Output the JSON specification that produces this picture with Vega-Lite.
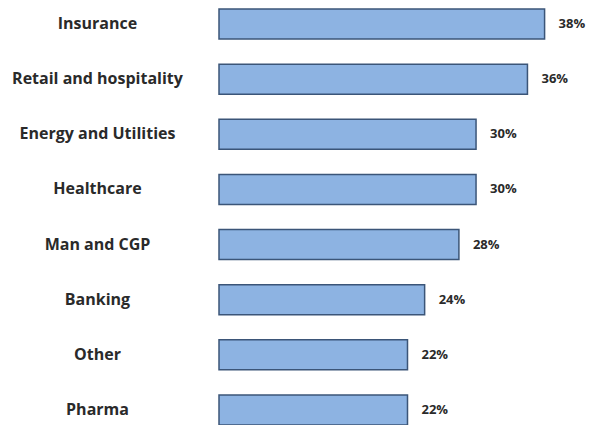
{
  "$schema": "https://vega.github.io/schema/vega-lite/v6.json",
  "autosize": {"type": "none"},
  "width": 377,
  "height": 416,
  "padding": {"left": 219, "top": 9, "right": 0, "bottom": 0},
  "background": "white",
  "config": {"view": {"stroke": null}},
  "data": {
    "values": [
      {"sector": "Insurance", "pct": 38, "label": "38%"},
      {"sector": "Retail and hospitality", "pct": 36, "label": "36%"},
      {"sector": "Energy and Utilities", "pct": 30, "label": "30%"},
      {"sector": "Healthcare", "pct": 30, "label": "30%"},
      {"sector": "Man and CGP", "pct": 28, "label": "28%"},
      {"sector": "Banking", "pct": 24, "label": "24%"},
      {"sector": "Other", "pct": 22, "label": "22%"},
      {"sector": "Pharma", "pct": 22, "label": "22%"}
    ]
  },
  "encoding": {
    "y": {
      "field": "sector",
      "type": "nominal",
      "sort": null,
      "scale": {"paddingInner": 0.456, "paddingOuter": 0},
      "axis": {
        "title": null,
        "domain": false,
        "ticks": false,
        "labelAlign": "center",
        "labelPadding": 122,
        "labelFont": "Open Sans",
        "labelFontWeight": "bold",
        "labelFontSize": 16,
        "labelColor": "#2a2a2a",
        "labelLimit": 300
      }
    },
    "x": {
      "field": "pct",
      "type": "quantitative",
      "scale": {"domain": [0, 44]},
      "axis": null
    }
  },
  "layer": [
    {
      "mark": {"type": "bar", "fill": "#8DB3E2", "stroke": "#3B5578", "strokeWidth": 1.5}
    },
    {
      "mark": {"type": "text", "align": "left", "dx": 14, "font": "Open Sans", "fontWeight": "bold", "fontSize": 13, "color": "#2a2a2a"},
      "encoding": {"text": {"field": "label", "type": "nominal"}}
    }
  ]
}
